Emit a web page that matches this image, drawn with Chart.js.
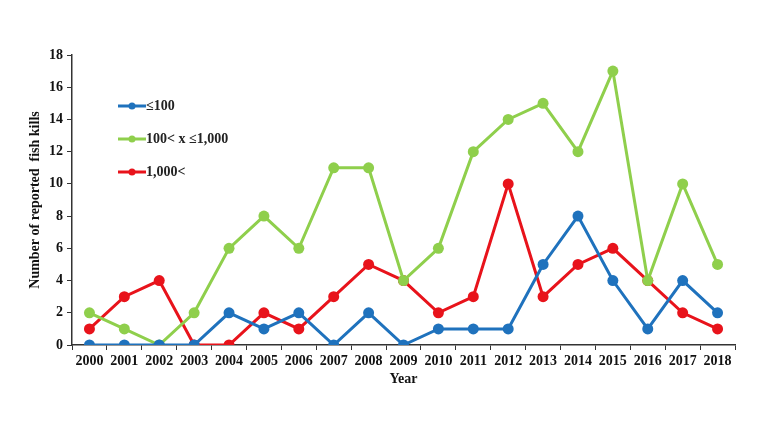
<!DOCTYPE html>
<html>
<head>
<meta charset="utf-8">
<script src="https://cdn.jsdelivr.net/npm/chart.js@4"></script>
<style>
  html, body { margin: 0; padding: 0; background: #fff; }
  #wrap { width: 758px; height: 428px; }
</style>
</head>
<body>
<div id="wrap"><canvas id="chart" width="758" height="428"></canvas></div>
<script>
// データ
const years = ['2000','2001','2002','2003','2004','2005','2006','2007','2008','2009',
               '2010','2011','2012','2013','2014','2015','2016','2017','2018'];
const seriesNames = ['≤100', '100< x ≤1,000', '1,000<'];
const small  = [0, 0, 0, 0, 2, 1, 2, 0, 2, 0, 1, 1, 1, 5, 8, 4, 1, 4, 2];
const medium = [2, 1, 0, 2, 6, 8, 6, 11, 11, 4, 6, 12, 14, 15, 12, 17, 4, 10, 5];
const large  = [1, 3, 4, 0, 0, 2, 1, 3, 5, 4, 2, 3, 10, 3, 5, 6, 4, 2, 1];
const yTicks = [0, 2, 4, 6, 8, 10, 12, 14, 16, 18];

const colors = ['#1f72bd', '#8fcf4c', '#e8131b'];
const font = 'Liberation Serif, Times New Roman, serif';

function makeSet(label, data, color) {
    return {
        label: label,
        data: data,
        borderColor: color,
        backgroundColor: color,
        borderWidth: 3,
        pointRadius: 5.5,
        pointHoverRadius: 5.5,
        pointBorderWidth: 0,
        tension: 0
    };
}

// 凡例をグラフ内に描くプラグイン
const innerLegend = {
    id: 'innerLegend',
    afterDatasetsDraw(chart) {
        const ctx = chart.ctx;
        ctx.save();
        chart.data.datasets.forEach((ds, i) => {
            const y = 106 + i * 33;
            ctx.strokeStyle = ds.borderColor;
            ctx.lineWidth = 3;
            ctx.beginPath();
            ctx.moveTo(118, y);
            ctx.lineTo(146, y);
            ctx.stroke();
            ctx.fillStyle = ds.borderColor;
            ctx.beginPath();
            ctx.arc(132, y, 3.5, 0, Math.PI * 2);
            ctx.fill();
            ctx.fillStyle = '#222';
            ctx.font = 'bold 14px ' + font;
            ctx.textBaseline = 'middle';
            ctx.fillText(ds.label, 146, y);
        });
        ctx.restore();
    }
};

const ctx = document.getElementById('chart').getContext('2d');
new Chart(ctx, {
    type: 'line',
    data: {
        labels: years,
        datasets: [
            makeSet(seriesNames[0], small, colors[0]),
            makeSet(seriesNames[1], medium, colors[1]),
            makeSet(seriesNames[2], large, colors[2])
        ]
    },
    options: {
        responsive: false,
        animation: false,
        layout: { padding: { top: 55, right: 23, left: 0, bottom: 40 } },
        plugins: {
            legend: { display: false },
            tooltip: { enabled: false }
        },
        scales: {
            x: {
                offset: true,
                grid: {
                    offset: true,
                    drawOnChartArea: false,
                    drawTicks: true,
                    tickLength: 5,
                    color: '#333'
                },
                border: { color: '#333', width: 1.5 },
                ticks: {
                    color: '#111',
                    font: { family: font, size: 14, weight: 'bold' },
                    maxRotation: 0,
                    autoSkip: false,
                    padding: 3
                },
                title: {
                    display: true,
                    text: 'Year',
                    color: '#111',
                    font: { family: font, size: 14, weight: 'bold' },
                    padding: { top: 2, bottom: 0 }
                },
                afterFit(scale) { scale.height = 43; }
            },
            y: {
                min: 0,
                max: 18,
                afterBuildTicks(scale) {
                    scale.ticks = yTicks.map(v => ({ value: v }));
                },
                grid: {
                    drawOnChartArea: false,
                    drawTicks: true,
                    tickLength: 5,
                    color: '#333'
                },
                border: { color: '#333', width: 1.5 },
                ticks: {
                    color: '#111',
                    font: { family: font, size: 14, weight: 'bold' },
                    padding: 4
                },
                title: {
                    display: true,
                    text: 'Number of reported  fish kills',
                    color: '#111',
                    font: { family: font, size: 14, weight: 'bold' },
                    padding: { top: 27, bottom: 0 }
                },
                afterFit(scale) { scale.width = 72; }
            }
        }
    },
    plugins: [innerLegend]
});
</script>
</body>
</html>
